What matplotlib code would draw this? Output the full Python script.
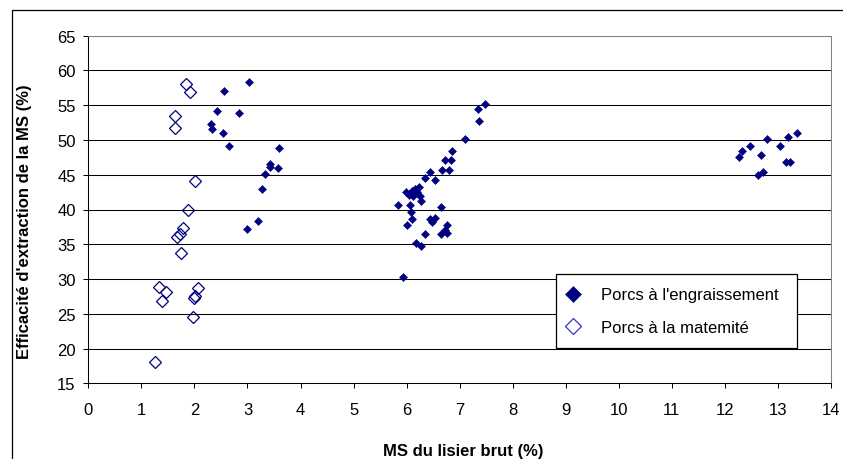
import matplotlib
matplotlib.use('Agg')
import matplotlib.pyplot as plt
from matplotlib.patches import Rectangle

plt.rcParams['font.family'] = ['Liberation Sans', 'DejaVu Sans']

# Porcs à l'engraissement (filled diamonds)
engr_x = [3.02, 2.55, 2.43, 2.85, 2.31, 2.34, 2.53, 2.65, 3.60, 3.43, 3.43, 3.58,
          3.33, 3.28, 3.19, 2.99,
          7.48, 7.35, 7.37, 7.11, 6.86, 6.72, 6.84, 6.67, 6.80, 6.45, 6.34, 6.53,
          6.23, 6.16, 6.10, 5.99, 6.20, 6.05, 6.25, 6.13, 6.28, 5.84, 6.06, 6.64,
          6.09, 6.11, 6.44, 6.54, 6.47, 6.01, 6.76, 6.73, 6.64, 6.76, 6.35, 6.18,
          6.28, 5.93,
          13.36, 13.19, 12.80, 13.03, 12.47, 12.32, 12.27, 12.68, 13.16, 13.22,
          12.71, 12.63]
engr_y = [58.4, 57.0, 54.1, 53.9, 52.3, 51.6, 51.0, 49.1, 48.9, 46.5, 46.1, 45.9,
          45.1, 42.9, 38.4, 37.2,
          55.2, 54.4, 52.7, 50.2, 48.4, 47.1, 47.1, 45.7, 45.7, 45.4, 44.5, 44.3,
          43.3, 43.0, 42.7, 42.5, 42.5, 42.1, 42.0, 41.9, 41.2, 40.6, 40.6, 40.3,
          39.7, 38.6, 38.6, 38.8, 38.2, 37.8, 37.8, 37.1, 36.5, 36.6, 36.5, 35.2,
          34.8, 30.3,
          51.0, 50.5, 50.2, 49.1, 49.1, 48.4, 47.6, 47.8, 46.9, 46.9,
          45.4, 45.0]

# Porcs à la maternité (open diamonds)
mat_x = [1.84, 1.92, 1.63, 1.63, 2.02, 1.87, 1.79, 1.73, 1.68, 1.75,
         1.33, 1.46, 1.38, 2.06, 2.01, 1.99, 1.97, 1.26]
mat_y = [58.0, 56.9, 53.4, 51.7, 44.1, 39.9, 37.3, 36.5, 36.1, 33.7,
         28.8, 28.1, 26.9, 28.7, 27.5, 27.2, 24.5, 18.1]

x_ticks = list(range(0, 15))
y_ticks = list(range(15, 70, 5))

navy = '#000080'

fig = plt.figure(figsize=(8.43, 4.60), dpi=100)
ax = fig.add_axes([88.3 / 843, 1 - 384.3 / 460, (831 - 88.3) / 843, (384.3 - 36.7) / 460])

ax.plot(engr_x, engr_y, linestyle='none', marker='D', ms=4, mfc=navy, mec=navy,
        mew=0.4, label="Porcs à l'engraissement", zorder=3)
ax.plot(mat_x, mat_y, linestyle='none', marker='D', ms=5.8, mfc='none', mec=navy,
        mew=0.9, label='Porcs à la matemité', zorder=3)

ax.set_xlim(0, 14)
ax.set_ylim(15, 65)
ax.set_xticks(x_ticks)
ax.set_yticks(y_ticks)
ax.yaxis.grid(True, color='black', lw=0.75)
ax.set_axisbelow(True)

ax.tick_params(axis='both', direction='out', length=3.6, width=0.75, labelsize=12)
ax.tick_params(axis='x', pad=9.8)
ax.tick_params(axis='y', pad=5.5)

for s in ['left', 'bottom']:
    ax.spines[s].set_color('black')
    ax.spines[s].set_linewidth(0.75)
for s in ['top', 'right']:
    ax.spines[s].set_color('#808080')
    ax.spines[s].set_linewidth(0.75)

fig.text(463 / 843, 1 - 452 / 460, 'MS du lisier brut (%)', fontsize=12,
         fontweight='bold', ha='center', va='center')
fig.text(25 / 843, 1 - 222 / 460, "Efficacité d'extraction de la MS (%)", fontsize=12,
         fontweight='bold', ha='center', va='center', rotation=90)

leg = ax.legend(loc='lower left', bbox_to_anchor=(0.6297, 0.1007, 0.3241, 0.2),
                mode='expand', fontsize=12,
                frameon=True, fancybox=False, shadow=False, framealpha=1,
                borderpad=0.8, labelspacing=1.05, handlelength=0.5,
                handletextpad=1.4, borderaxespad=0)
leg.get_frame().set_edgecolor('black')
leg.get_frame().set_linewidth(0.9)
h = leg.legend_handles
h[0].set_markersize(8.5)
h[0].set_color('#333399')
h[1].set_markersize(8.0)
h[1].set_markeredgecolor('#3333cc')

# outer chart frame (left and top edges visible)
fig.patches.append(Rectangle((11.5 / 843, -0.1), 1.2, 1.1 - 10.5 / 460,
                             transform=fig.transFigure, fill=False,
                             edgecolor='black', lw=0.9))

fig.savefig('out.png', dpi=100)
